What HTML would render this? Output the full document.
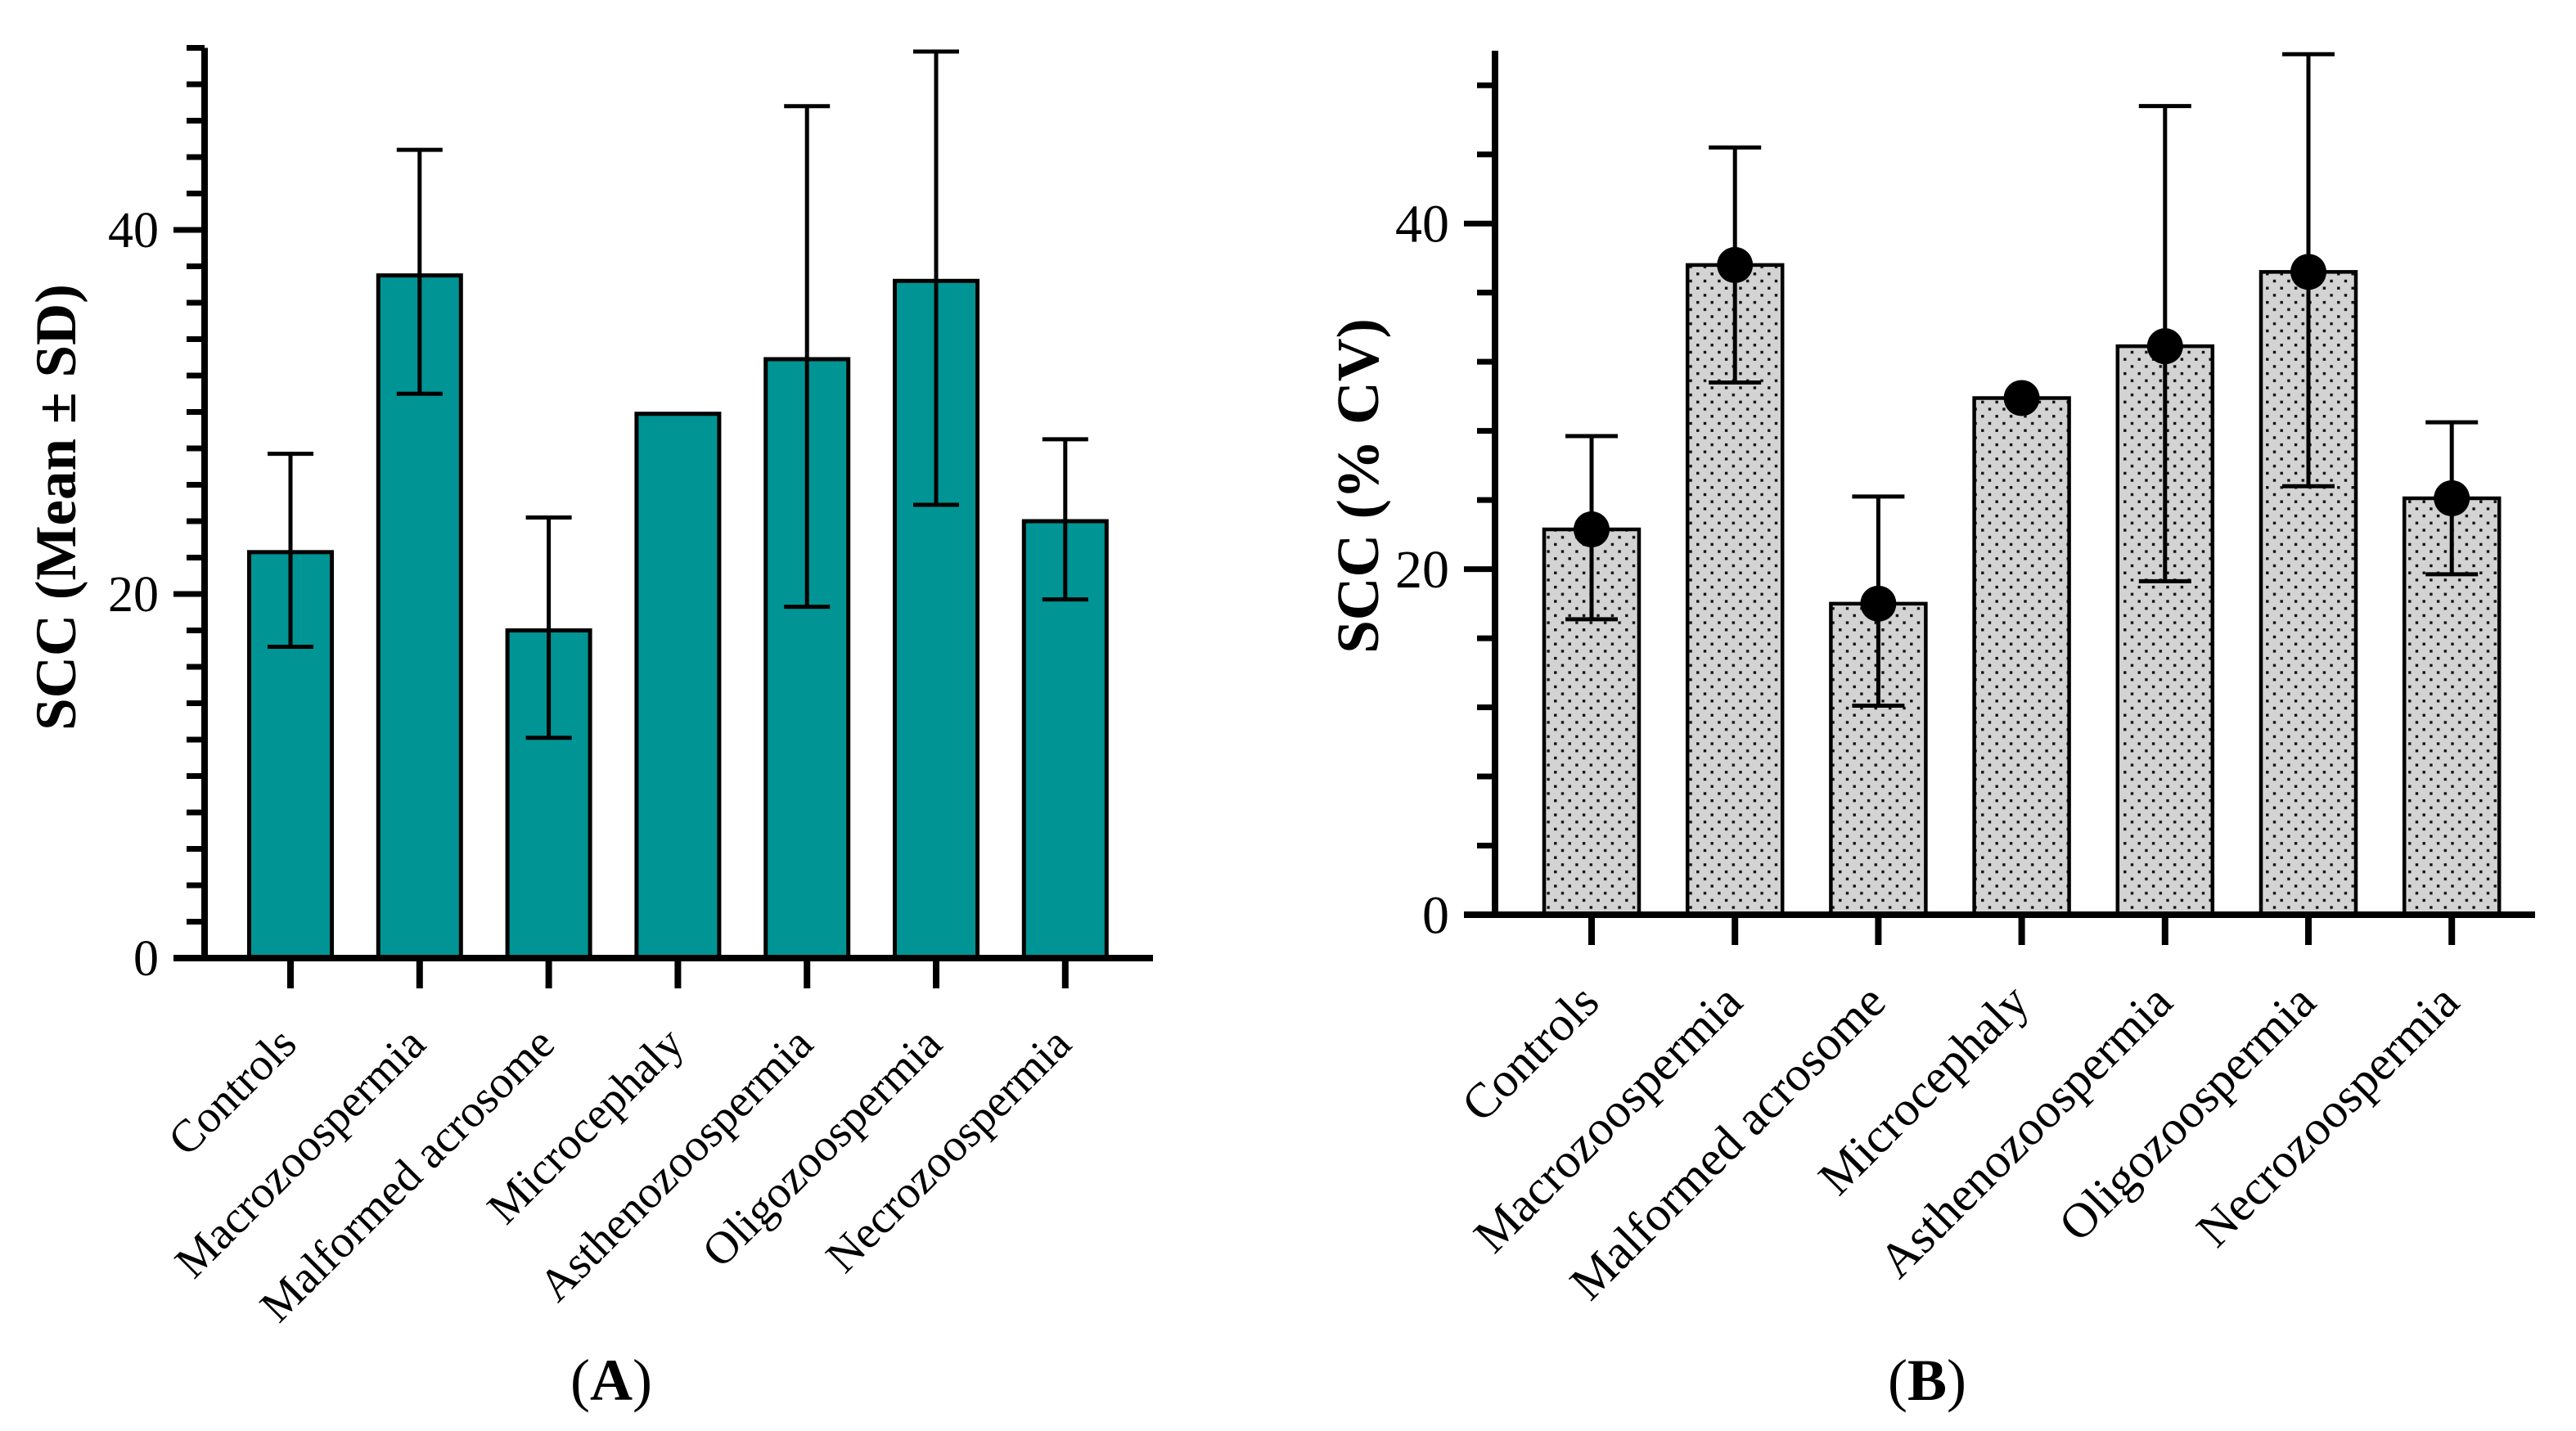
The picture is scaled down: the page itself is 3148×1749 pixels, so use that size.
<!DOCTYPE html>
<html><head><meta charset="utf-8">
<style>
html,body{margin:0;padding:0;background:#fff;}
svg{display:block;}
text{font-family:"Liberation Serif","Times New Roman","DejaVu Serif",serif;fill:#000;}
</style></head>
<body>
<svg id="chart" width="3148" height="1749" viewBox="0 0 3148 1749" xmlns="http://www.w3.org/2000/svg">
<defs>
<pattern id="dots" patternUnits="userSpaceOnUse" width="17.4" height="17.4">
<rect width="17.4" height="17.4" fill="#d3d3d3"/>
<rect x="2.5" y="2.5" width="3.4" height="3.4" fill="#111"/>
<rect x="11.2" y="11.2" width="3.4" height="3.4" fill="#111"/>
</pattern>
</defs>
<g id="panelA"></g>
<g id="panelB"></g>
<text x="747" y="1711" text-anchor="middle" font-size="72">(<tspan font-weight="bold">A</tspan>)</text>
<text x="2355" y="1711" text-anchor="middle" font-size="72">(<tspan font-weight="bold">B</tspan>)</text>
</svg>
<script>
const categories = ["Controls","Macrozoospermia","Malformed acrosome","Microcephaly","Asthenozoospermia","Oligozoospermia","Necrozoospermia"];
const meanA = [22.3, 37.5, 18.0, 29.9, 32.9, 37.2, 24.0];
const lowA = [17.1, 31.0, 12.1, null, 19.3, 24.9, 19.7];
const highA = [27.7, 44.4, 24.2, null, 46.8, 49.8, 28.5];
const meanB = [22.3, 37.6, 18.0, 29.9, 32.9, 37.2, 24.1];
const lowB = [17.1, 30.8, 12.1, null, 19.3, 24.8, 19.7];
const highB = [27.7, 44.4, 24.2, null, 46.8, 49.8, 28.5];
const majorTicks = [0, 20, 40];
const tickLabels = ["0", "20", "40"];

const NS = "http://www.w3.org/2000/svg";
function mk(parent, tag, attrs) {
  const e = document.createElementNS(NS, tag);
  for (const k in attrs) e.setAttribute(k, attrs[k]);
  parent.appendChild(e);
  return e;
}

function drawPanel(g, cfg, means, lows, highs) {
  const y = v => cfg.zeroY - v * cfg.unit;
  const x = i => cfg.x0 + i * cfg.step;
  means.forEach((m, i) => {
    const r = mk(g, "rect", {x: x(i) - cfg.barW / 2, y: y(m), width: cfg.barW, height: y(0) - y(m), fill: cfg.fill, stroke: "#000", "stroke-width": cfg.barStroke});
    
    
  });
  means.forEach((m, i) => {
    if (lows[i] == null) return;
    const eg = mk(g, "g", {stroke: "#000", "stroke-width": 5});
    
    
    mk(eg, "line", {x1: x(i), x2: x(i), y1: y(lows[i]), y2: y(highs[i])});
    mk(eg, "line", {x1: x(i) - cfg.capW / 2, x2: x(i) + cfg.capW / 2, y1: y(highs[i]), y2: y(highs[i])});
    mk(eg, "line", {x1: x(i) - cfg.capW / 2, x2: x(i) + cfg.capW / 2, y1: y(lows[i]), y2: y(lows[i])});
  });
  if (cfg.dots) means.forEach((m, i) => {
    const c = mk(g, "circle", {cx: x(i), cy: y(m), r: 22, fill: "#000"});
    
    
  });
  const ya = mk(g, "g", {stroke: "#000"});
  
  
  mk(ya, "line", {x1: cfg.axisX, x2: cfg.axisX, y1: y(50), y2: y(0) + 4, "stroke-width": 8});
  for (let v = 0; v <= 50; v += cfg.minorStep) {
    const major = majorTicks.indexOf(v) >= 0;
    const len = major ? 38 : 22;
    mk(ya, "line", {x1: cfg.axisX - len, x2: cfg.axisX, y1: y(v), y2: y(v), "stroke-width": 7});
  }
  majorTicks.forEach((v, k) => {
    const t = mk(g, "text", {x: cfg.axisX - 56, y: y(v) + cfg.tickFont * 0.34, "text-anchor": "end", "font-size": cfg.tickFont});
    t.textContent = tickLabels[k];
    
    
  });
  const xa = mk(g, "g", {stroke: "#000"});
  
  
  mk(xa, "line", {x1: cfg.axisX - 38, x2: cfg.xEnd, y1: y(0), y2: y(0), "stroke-width": 8});
  categories.forEach((c, i) => {
    mk(xa, "line", {x1: x(i), x2: x(i), y1: y(0), y2: y(0) + 37, "stroke-width": 8});
    const tx = x(i) + cfg.lblDx, ty = y(0) + cfg.lblDy;
    const t = mk(g, "text", {x: tx, y: ty, "text-anchor": "end", "font-size": cfg.lblFont, transform: "rotate(-45 " + tx + " " + ty + ")"});
    t.textContent = c;
    
    
  });
  const tt = mk(g, "text", {x: cfg.titleX, y: cfg.titleY, "text-anchor": "middle", "font-size": cfg.titleFont, "font-weight": "bold", transform: "rotate(-90 " + cfg.titleX + " " + cfg.titleY + ")"});
  tt.textContent = cfg.title;
  
  
}

drawPanel(document.getElementById("panelA"), {
  zeroY: 1171, unit: 22.25, x0: 355, step: 157.8, barW: 101, barStroke: 5, capW: 56,
  fill: "#009494", dots: false, axisX: 250, xEnd: 1409, minorStep: 2, tickFont: 62,
  lblDx: 10, lblDy: 108, lblFont: 56, title: "SCC (Mean \u00B1 SD)", titleX: 92, titleY: 620, titleFont: 71
}, meanA, lowA, highA);

drawPanel(document.getElementById("panelB"), {
  zeroY: 1118, unit: 21.12, x0: 1945, step: 175.2, barW: 116, barStroke: 4.5, capW: 64,
  fill: "url(#dots)", dots: true, axisX: 1827, xEnd: 3098, minorStep: 4, tickFont: 66,
  lblDx: 12, lblDy: 110, lblFont: 60, title: "SCC (% CV)", titleX: 1684, titleY: 594, titleFont: 73
}, meanB, lowB, highB);
</script>
</body></html>
